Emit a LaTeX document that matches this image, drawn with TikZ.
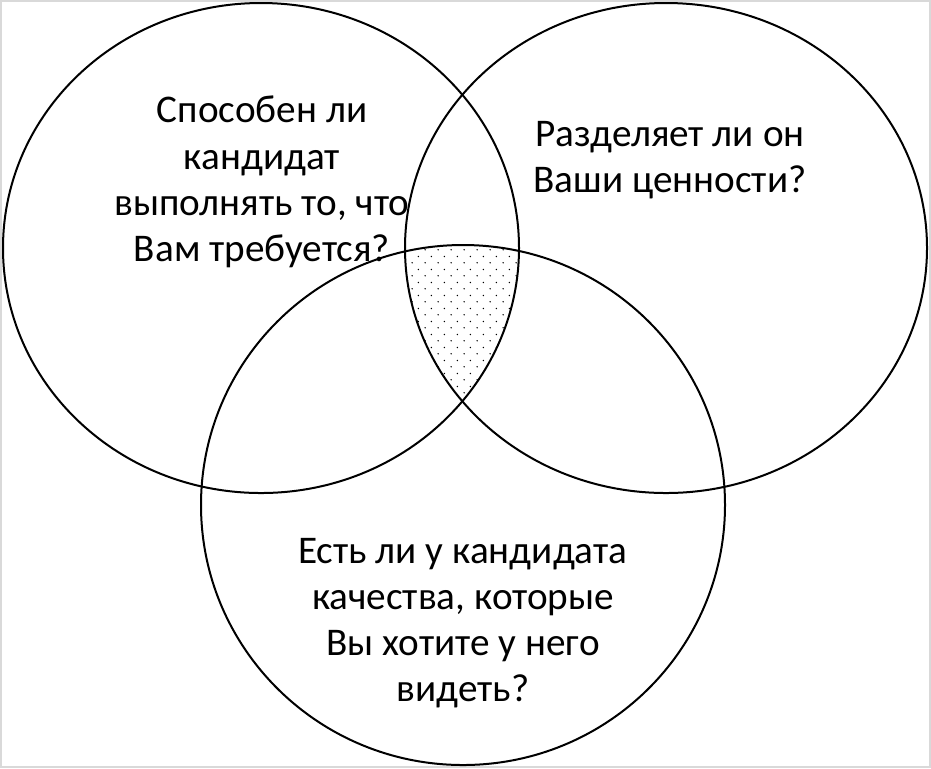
\documentclass[tikz,border=0pt]{standalone}
\usepackage{fontspec}
\setmainfont{Carlito}
\usetikzlibrary{patterns}
\usetikzlibrary{positioning}
\pgfdeclarepatternformonly{sparsedots}{\pgfpointorigin}{\pgfpoint{6.6pt}{6.4pt}}{\pgfpoint{6.6pt}{6.4pt}}{
  \pgfpathcircle{\pgfpoint{1.65pt}{1.6pt}}{0.4pt}
  \pgfpathcircle{\pgfpoint{4.95pt}{4.8pt}}{0.4pt}
  \pgfusepath{fill}}

\begin{document}
\begin{tikzpicture}[x=0.5pt, y=-0.5pt]
\tikzset{SetStyle/.style = {line width=1pt, draw=black}}
\tikzset{LabelStyle/.style = {align=center, font=\fontsize{19.6}{23.1}\selectfont, inner sep=0pt}}
  	\useasboundingbox (0,0) rectangle (931,768);
	\draw[draw=black!15, line width=0.8pt] (0.8,0.8) rectangle (930.2,767.2);
	% shaded part common to all three sets
	\begin{scope}
	\clip (261,248) ellipse [x radius=258, y radius=245];
	\clip (666,248) ellipse [x radius=261, y radius=245];
	\fill[pattern=sparsedots, pattern color=black] (463,505) ellipse [x radius=262, y radius=260];
	\end{scope}
	\draw[SetStyle] (261,248) ellipse [x radius=258, y radius=245];
	\draw[SetStyle] (666,248) ellipse [x radius=261, y radius=245];
	\draw[SetStyle] (463,505) ellipse [x radius=262, y radius=260];
	\node[LabelStyle] (skills) at (262,182) {Способен ли\\кандидат\\выполнять то, что\\Вам требуется?};
	\node[LabelStyle] (values) at (670,160) {Разделяет ли он\\Ваши ценности?};
	\node[LabelStyle] (traits) at (463,623) {Есть ли у кандидата\\качества, которые\\Вы хотите у него\\видеть?};
\end{tikzpicture}
\end{document}
